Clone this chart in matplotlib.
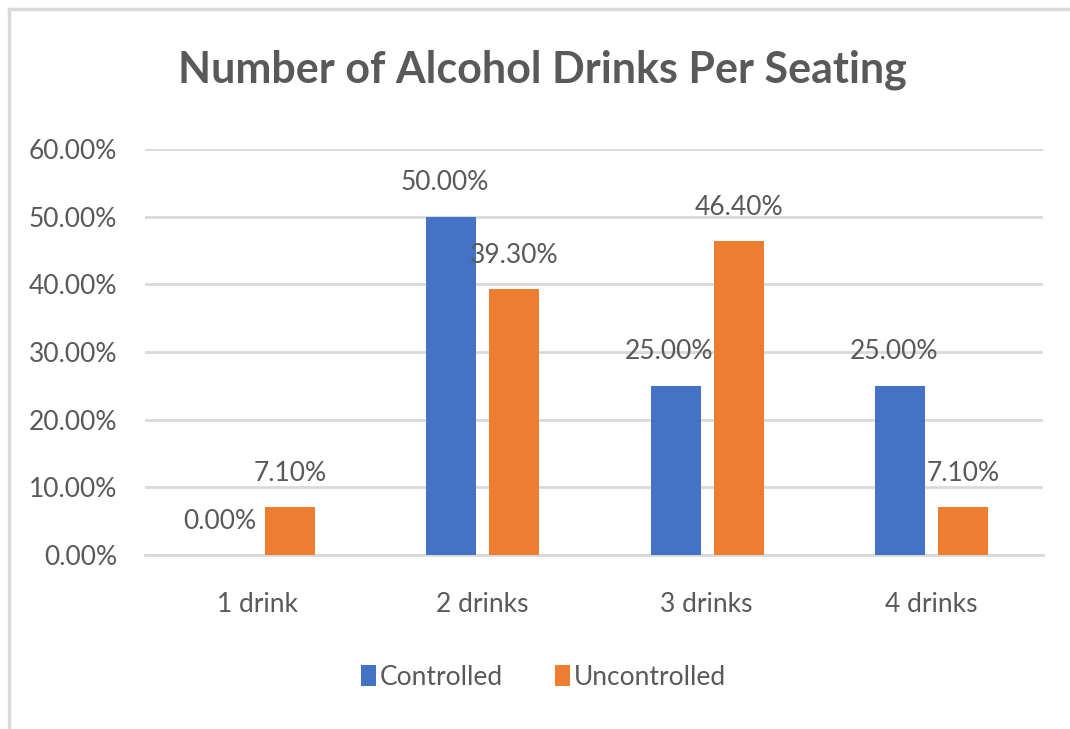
import numpy as np
import matplotlib
import matplotlib.pyplot as plt
from matplotlib.lines import Line2D
from matplotlib.ticker import FuncFormatter

matplotlib.rcParams['font.family'] = ['Lato', 'DejaVu Sans']

# ===== data =====
categories = ['1 drink', '2 drinks', '3 drinks', '4 drinks']
controlled = [0.0, 50.0, 25.0, 25.0]
uncontrolled = [7.1, 39.3, 46.4, 7.1]

BLUE = '#4472C4'
ORANGE = '#ED7D31'
TXT = '#595959'
GRID = '#D9D9D9'

fig = plt.figure(figsize=(10.7, 7.29), dpi=100)
ax = fig.add_axes([0.1355, 0.2387, 0.8393, 0.5569])

x = np.arange(len(categories))
w = 0.222
b1 = ax.bar(x - 0.136, controlled, w, color=BLUE, zorder=3, label='Controlled')
b2 = ax.bar(x + 0.145, uncontrolled, w, color=ORANGE, zorder=3, label='Uncontrolled')

# value labels above each bar
for xi, v in zip(x - 0.136, controlled):
    ax.text(xi - 0.03, v + 5.0, f'{v:.2f}%', ha='center', va='center',
            fontsize=19, color=TXT, zorder=4)
for xi, v in zip(x + 0.145, uncontrolled):
    ax.text(xi, v + 5.0, f'{v:.2f}%', ha='center', va='center',
            fontsize=19, color=TXT, zorder=4)

ax.set_xlim(-0.5, 3.5)
ax.set_ylim(0, 60)
ax.set_yticks(np.arange(0, 61, 10))
ax.yaxis.set_major_formatter(FuncFormatter(lambda v, p: f'{v:.2f}%'))
ax.set_xticks(x)
ax.set_xticklabels(categories)
ax.tick_params(axis='both', length=0, labelsize=19, labelcolor=TXT)
ax.tick_params(axis='y', pad=20)
ax.tick_params(axis='x', pad=27)
ax.grid(axis='y', color=GRID, linewidth=2, zorder=0)
for s in ['top', 'right', 'left']:
    ax.spines[s].set_visible(False)
ax.spines['bottom'].set_color(GRID)
ax.spines['bottom'].set_linewidth(2)

fig.text(0.507, 0.904, 'Number of Alcohol Drinks Per Seating', ha='center', va='center',
         fontsize=31, fontweight='bold', color=TXT)

leg = fig.legend(handles=[b1, b2], loc='center', bbox_to_anchor=(0.508, 0.071),
                 ncol=2, frameon=False, fontsize=19, handlelength=0.55, handleheight=0.85,
                 handletextpad=0.15, columnspacing=2.0)
for t in leg.get_texts():
    t.set_color(TXT)

# chart border (left and top edges)
fig.add_artist(Line2D([9 / 1070, 9 / 1070], [0, 1 - 9 / 729], transform=fig.transFigure,
                      color=GRID, linewidth=2.5))
fig.add_artist(Line2D([9 / 1070, 1], [1 - 9 / 729, 1 - 9 / 729], transform=fig.transFigure,
                      color=GRID, linewidth=2.5))

plt.savefig('out.png', dpi=100)
